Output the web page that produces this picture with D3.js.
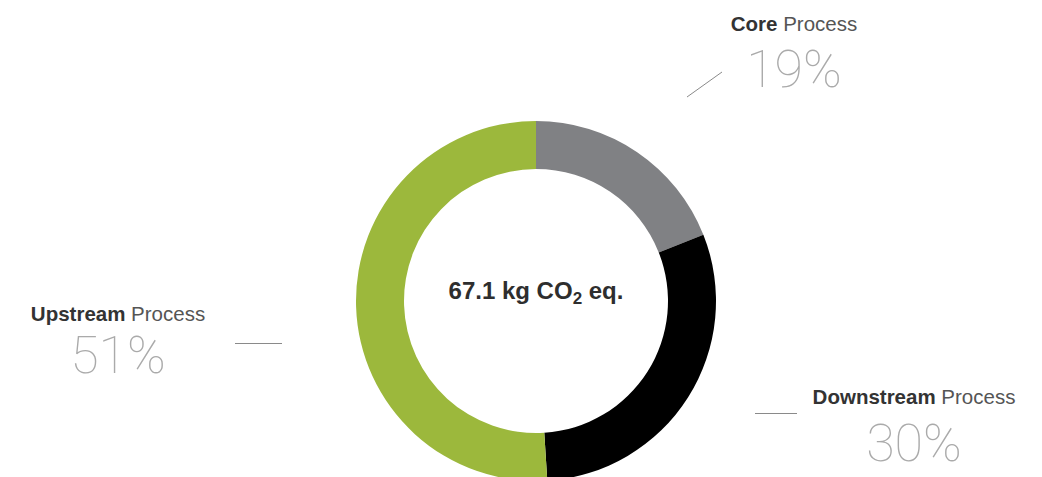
<!DOCTYPE html>
<html><head><meta charset="utf-8">
<script src="https://cdn.jsdelivr.net/npm/d3@7"></script>
<style>
html,body{margin:0;padding:0;background:#fff;}
svg{display:block;}
</style></head>
<body>
<script>
// ---- data ----
const categories = ["Core", "Downstream", "Upstream"];
const values = [19, 30, 51];
const percentLabels = ["19%", "30%", "51%"];
const colors = ["#808184", "#000000", "#9cb83c"];
const centerValue = "67.1";

// ---- layout ----
const W = 1042, H = 477;
const cx = 536, cy = 301, rOuter = 180, rInner = 132;
// label anchors (centre x, title baseline, percent baseline) and leader lines
const labelPos = [
  {x: 794, y1: 31, y2: 87, line: [687, 97, 722, 72]},
  {x: 914, y1: 404, y2: 461, line: [755, 413.5, 797, 413.5]},
  {x: 118, y1: 321, y2: 373, line: [235, 343.5, 282, 343.5]}
];

const svg = d3.select("body").append("svg").attr("width", W).attr("height", H);

const pie = d3.pie().sort(null).value(d => d.v);
const arc = d3.arc().innerRadius(rInner).outerRadius(rOuter);
const data = categories.map((c, i) => ({c, v: values[i], col: colors[i], p: percentLabels[i], pos: labelPos[i]}));

const g = svg.append("g").attr("transform", `translate(${cx},${cy})`);
g.selectAll("path").data(pie(data)).join("path")
  .attr("d", arc).attr("fill", d => d.data.col);

// centre text
const ct = svg.append("text").attr("x", cx).attr("y", 299)
  .attr("text-anchor", "middle")
  .style("font-family", "'Liberation Sans', Arial, sans-serif")
  .style("font-weight", "bold").style("font-size", "24px").attr("fill", "#2e2e2e");
ct.append("tspan").text(centerValue + " kg CO");
ct.append("tspan").text("2").style("font-size", "17px").attr("dy", 5);
ct.append("tspan").text(" eq.").attr("dy", -5);

// labels
const lab = svg.selectAll("g.lab").data(data).join("g").attr("class", "lab");
lab.append("line")
  .attr("x1", d => d.pos.line[0]).attr("y1", d => d.pos.line[1])
  .attr("x2", d => d.pos.line[2]).attr("y2", d => d.pos.line[3])
  .attr("stroke", "#8a8a8a").attr("stroke-width", 1);
const t1 = lab.append("text").attr("x", d => d.pos.x).attr("y", d => d.pos.y1)
  .attr("text-anchor", "middle")
  .style("font-family", "'Liberation Sans', Arial, sans-serif")
  .style("font-size", "20.5px").attr("fill", "#333");
t1.append("tspan").text(d => d.c).style("font-weight", "bold");
t1.append("tspan").text(" Process").attr("fill", "#555");
lab.append("text").attr("x", d => d.pos.x).attr("y", d => d.pos.y2)
  .attr("text-anchor", "middle")
  .style("font-family", "Roboto, sans-serif").style("font-weight", "100")
  .style("font-size", "52px").attr("fill", "#aaaaaa")
  .text(d => d.p);
</script>
</body></html>
